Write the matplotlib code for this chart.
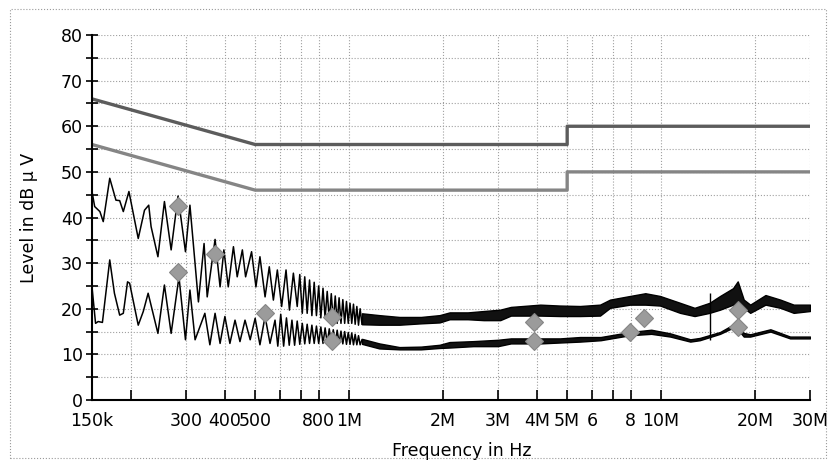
import numpy as np
import matplotlib.pyplot as plt
import matplotlib.ticker as ticker
from matplotlib.patches import Rectangle

# Limit lines (MHz, dBuV)
limit_f = [0.15, 0.5, 5.0, 5.0, 30.0]
qp_limit = [66, 56, 56, 60, 60]
av_limit = [56, 46, 46, 50, 50]

# Peak trace, oscillating part (kHz, dBuV)
pk_osc_f = [150, 153, 159, 163, 171, 179, 184, 189, 197, 211, 221, 228, 232, 244,
            256, 269, 283, 299, 309, 329, 343, 351, 372, 386, 397, 410, 426, 438,
            455, 466, 487, 503, 518, 538, 555, 572, 589, 608, 628, 644, 663, 682,
            695, 708, 721, 734, 747, 760, 773, 786, 799, 812, 825, 838, 851, 864,
            877, 890, 903, 916, 929, 942, 955, 968, 981, 994, 1007, 1020, 1033,
            1046, 1059, 1072, 1085, 1100]
pk_osc_lvl = [45.7, 42.4, 41.3, 39.1, 48.6, 43.8, 43.7, 41.3, 45.7, 35.4, 41.6, 42.7,
              38.0, 31.4, 43.5, 32.9, 44.7, 32.5, 42.7, 21.5, 34.3, 22.6, 35.2, 24.8,
              32.9, 24.8, 33.6, 27.0, 32.9, 27.0, 32.5, 24.8, 31.4, 22.6, 29.2, 21.9,
              28.5, 20.5, 28.5, 19.7, 27.8, 20.5, 27.5, 19.0, 27.0, 19.0, 26.3, 18.5,
              25.8, 18.5, 25.0, 18.0, 24.5, 18.0, 23.8, 17.5, 23.3, 17.2, 22.8, 16.8,
              22.4, 16.8, 22.0, 16.8, 21.6, 16.8, 21.2, 16.8, 21.0, 16.6, 20.5, 16.4,
              20.0, 16.6]

# Average trace, oscillating part (kHz, dBuV)
av_osc_f = [150, 154, 157, 162, 171, 177, 184, 189, 195, 198, 211, 219, 227, 244,
            256, 269, 285, 299, 309, 321, 345, 358, 372, 386, 400, 415, 431, 447,
            464, 482, 500, 518, 538, 558, 579, 591, 604, 617, 630, 643, 656, 669,
            682, 695, 708, 721, 734, 747, 760, 773, 786, 799, 812, 825, 838, 851,
            864, 877, 890, 903, 916, 929, 942, 955, 968, 981, 994, 1007, 1020, 1033,
            1046, 1059, 1072, 1085, 1100]
av_osc_lvl = [24.8, 16.8, 17.2, 17.0, 30.7, 23.4, 18.6, 19.0, 25.9, 25.6, 16.4, 19.4,
              23.4, 14.6, 25.2, 14.6, 27.0, 13.2, 24.1, 13.2, 19.0, 12.1, 19.0, 12.4,
              18.3, 12.4, 17.5, 12.8, 17.5, 13.2, 17.9, 12.1, 18.3, 12.4, 17.5, 11.8,
              18.8, 11.8, 18.0, 12.0, 17.5, 12.0, 17.3, 12.2, 16.8, 12.3, 16.6, 12.4,
              16.4, 12.4, 16.2, 12.4, 16.0, 12.4, 15.8, 12.4, 15.6, 12.4, 15.4, 12.4,
              15.3, 12.4, 15.1, 12.3, 15.0, 12.2, 14.8, 12.2, 14.7, 12.1, 14.4, 12.1,
              14.1, 12.1, 13.2]

# Peak trace, noisy band above 1.1 MHz (MHz, upper / lower edge in dBuV)
pk_band_f = [1.1, 1.25, 1.45, 1.7, 1.95, 2.1, 2.4, 2.7, 3.05, 3.3, 3.6, 4.1, 4.74,
             5.5, 6.37, 6.86, 7.95, 8.9, 9.92, 11.5, 12.8, 14.3, 15.45, 17.0, 17.6,
             18.4, 19.3, 21.6, 24.1, 26.6, 30.0]
pk_band_hi = [19.0, 18.6, 18.2, 18.2, 18.6, 19.2, 19.2, 19.5, 19.8, 20.4, 20.6, 20.9,
              20.7, 20.6, 20.9, 22.0, 22.8, 23.4, 22.8, 21.3, 20.2, 21.3, 22.8, 24.5,
              26.0, 22.0, 20.9, 23.0, 22.0, 20.9, 20.9]
pk_band_lo = [16.6, 16.5, 16.5, 16.8, 17.0, 17.7, 17.7, 17.5, 17.5, 18.5, 18.5, 18.5,
              18.4, 18.4, 18.5, 20.2, 20.9, 20.9, 20.7, 19.1, 18.4, 19.1, 19.8, 20.9,
              21.3, 20.2, 19.1, 20.9, 20.2, 19.1, 19.5]

# Average trace, noisy band above 1.1 MHz
av_band_f = [1.1, 1.25, 1.45, 1.7, 1.95, 2.1, 2.5, 3.0, 3.3, 4.1, 4.74, 5.5, 6.4,
             7.95, 9.3, 10.7, 12.4, 13.3, 15.45, 17.3, 18.4, 19.3, 22.4, 25.9, 30.0]
av_band_hi = [13.4, 12.4, 11.6, 11.7, 12.1, 12.7, 12.9, 13.2, 13.5, 13.5, 13.5, 13.8,
              13.8, 14.9, 15.4, 14.6, 13.3, 13.6, 14.9, 16.8, 14.7, 14.4, 15.5, 13.9,
              13.9]
av_band_lo = [12.3, 11.3, 11.1, 11.1, 11.4, 11.5, 11.8, 11.8, 12.4, 12.4, 12.6, 12.8,
              13.1, 14.2, 14.5, 13.9, 12.8, 13.1, 14.5, 16.1, 13.9, 13.9, 15.0, 13.5,
              13.5]

# Single spike near 14 MHz
spike_f = [14.35]
spike_lo = [13.2]
spike_hi = [23.4]

# Measured points (MHz, dBuV)
qp_mark_f = [0.283, 0.372, 0.538, 0.882, 3.92, 8.8, 17.6]
qp_mark_lvl = [42.5, 32.0, 19.1, 18.2, 17.1, 18.0, 19.7]
av_mark_f = [0.283, 0.882, 3.92, 7.95, 17.6]
av_mark_lvl = [28.1, 12.9, 12.9, 14.9, 16.0]

# Axis ticks
tick_f = [0.15, 0.2, 0.3, 0.4, 0.5, 0.6, 0.7, 0.8, 1, 2, 3, 4, 5, 6, 7, 8, 10, 20, 30]
tick_labels = ['150k', '', '300', '400', '500', '', '', '800', '1M', '2M', '3M', '4M',
               '5M', '6', '', '8', '10M', '20M', '30M']

plt.rcParams['font.family'] = ['DejaVu Sans']
fig = plt.figure(figsize=(8.34, 4.65), dpi=100)
ax = fig.add_axes([0.1103, 0.1398, 0.8609, 0.7849])

# dotted frame round the whole picture
fig.patches.append(Rectangle((10/834, 1-458/465), 816/834, 449/465, transform=fig.transFigure,
                             fill=False, ec='#9a9a9a', lw=0.8, ls=':'))

ax.set_xscale('log')
ax.set_xlim(0.15e6, 30e6)
ax.set_ylim(0, 80)

# grid
for f in tick_f[1:]:
    ax.axvline(f * 1e6, color='#a0a0a0', lw=0.8, ls=':', zorder=0)
for y in range(5, 81, 5):
    ax.axhline(y, color='#a0a0a0', lw=0.8, ls=':', zorder=0)

# limits
lf = np.array(limit_f) * 1e6
ax.plot(lf, qp_limit, color='#5c5c5c', lw=2.4, zorder=2)
ax.plot(lf, av_limit, color='#858585', lw=2.4, zorder=2)

# traces
ax.plot(np.array(pk_osc_f) * 1e3, pk_osc_lvl, color='black', lw=1.1, zorder=3)
ax.plot(np.array(av_osc_f) * 1e3, av_osc_lvl, color='black', lw=1.1, zorder=3)
pbf = np.array(pk_band_f) * 1e6
ax.fill_between(pbf, pk_band_lo, pk_band_hi, color='#111111', ec='black', lw=1.0, zorder=3)
abf = np.array(av_band_f) * 1e6
ax.fill_between(abf, av_band_lo, av_band_hi, color='#111111', ec='black', lw=1.0, zorder=3)
ax.vlines(np.array(spike_f) * 1e6, spike_lo, spike_hi, color='black', lw=1.0, zorder=3)

# markers
ax.plot(np.array(qp_mark_f) * 1e6, qp_mark_lvl, 'D', ms=9, color='#9b9b9b',
        mec='#858585', mew=0.8, zorder=4)
ax.plot(np.array(av_mark_f) * 1e6, av_mark_lvl, 'D', ms=9, color='#9b9b9b',
        mec='#858585', mew=0.8, zorder=4)

# axes styling
for s in ['top', 'right']:
    ax.spines[s].set_visible(False)
ax.spines['left'].set_linewidth(1.5)
ax.spines['bottom'].set_linewidth(1.5)

ax.xaxis.set_major_locator(ticker.FixedLocator(np.array(tick_f) * 1e6))
ax.xaxis.set_major_formatter(ticker.FixedFormatter(tick_labels))
ax.xaxis.set_minor_locator(ticker.NullLocator())
ax.yaxis.set_major_locator(ticker.MultipleLocator(10))
ax.yaxis.set_minor_locator(ticker.MultipleLocator(5))
ax.tick_params(axis='x', direction='in', length=7, width=1.2, labelsize=12.5, pad=9)
ax.tick_params(axis='y', which='both', direction='inout', length=9, width=1.2,
               labelsize=12.5, pad=2)

ax.set_xlabel('Frequency in Hz', fontsize=12.5)
ax.set_ylabel('Level in dB \u03bc V', fontsize=12.5)
ax.xaxis.set_label_coords(0.515, -0.115)
ax.yaxis.set_label_coords(-0.075, 0.5)

fig.savefig('out.png', dpi=100)
